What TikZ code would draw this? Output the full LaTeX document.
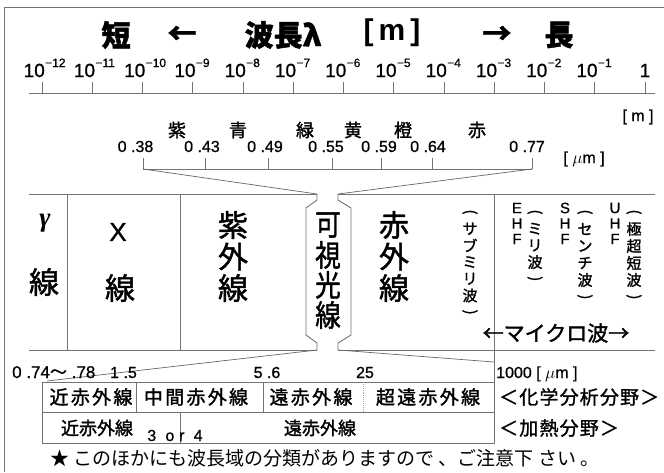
\documentclass[tikz,border=0pt]{standalone}
\usepackage{fontspec}
\setmainfont{Liberation Sans}[UprightFeatures={FakeBold=0.8}]
\newfontfamily\cjk{Noto Sans CJK JP}[UprightFeatures={FakeBold=1.5},BoldFeatures={FakeBold=1.5}]
\newfontfamily\cjkplain{Noto Sans CJK JP}
\newfontfamily\cjkrow{Noto Sans CJK JP}[FakeBold=1.5,LetterSpace=12]
\newfontfamily\cjkside{Noto Sans CJK JP}[FakeBold=1.2,LetterSpace=6]
\newfontfamily\grk{Liberation Serif}
\newfontfamily\spc{Liberation Sans}[LetterSpace=30,FakeBold=0.8]
\newcommand\vop{\rotatebox{-90}{(}}
\newcommand\vcl{\rotatebox{-90}{)}}
\newcommand\vstack[6]{% name, x, y0, dy, style, list
  \foreach \ch [count=\k from 0] in {#6} {\node[#5] (#1\k) at (#2,#3+#4*\k) {\ch};}}
\begin{document}
\begin{tikzpicture}[x=1pt,y=-1pt,
  ln/.style={draw=black!55, line width=0.9pt},
  fan/.style={draw=black!60, line width=0.7pt},
  title/.style={font=\cjk\bfseries\fontsize{29}{30}\selectfont, inner sep=0pt},
  tenlbl/.style={font=\fontsize{19}{19}\selectfont, inner sep=0pt, anchor=base east},
  explbl/.style={font=\fontsize{12}{12}\selectfont, inner sep=0pt, anchor=base west},
  cname/.style={font=\cjk\fontsize{18}{18}\selectfont, inner sep=0pt},
  num/.style={font=\fontsize{16}{16}\selectfont, inner sep=0pt, anchor=base},
  bigv/.style={font=\cjk\fontsize{30}{30}\selectfont, inner sep=0pt},
  smallv/.style={font=\cjk\fontsize{15}{15}\selectfont, inner sep=0pt},
  letv/.style={font=\fontsize{15}{15}\selectfont, inner sep=0pt},
  tbl/.style={font=\cjkrow\fontsize{19}{19}\selectfont, inner sep=0pt},
  tbltwo/.style={font=\cjk\fontsize{18}{18}\selectfont, inner sep=0pt},
  side/.style={font=\cjkside\fontsize{19}{19}\selectfont, inner sep=0pt, anchor=west}]
\useasboundingbox (0,0) rectangle (664,472);
\fill[white] (0,0) rectangle (664,472);
% outer frame
\coordinate (fbl) at (4,472);
\coordinate (ftl) at (4,7);
\coordinate (ftr) at (664,7);
\draw[ln] (fbl) -- (ftl) -- (ftr);

% title
\node[title] (short) at (116,35) {短};
\node[title] (larr) at (182,35) {←};
\node[title] (hacho) at (283,35) {波長λ};
\node[title, font=\bfseries\fontsize{30}{30}\selectfont] (munit) at (392,33) {[\hspace{5pt}m\hspace{5pt}]};
\node[title] (rarr) at (497,35) {→};
\node[title] (long) at (559,35) {長};

% logarithmic scale
\coordinate (axl) at (29,93);
\coordinate (axr) at (655,93);
\draw[ln] (axl) -- (axr);
\foreach \i in {0,...,11} {
  \pgfmathsetmacro\tx{42+50.25*\i}
  \pgfmathtruncatemacro\ab{12-\i}
  \node[tenlbl] (ten\i) at (\tx+3,77) {10};
  \node[explbl] (exp\i) at (\tx+3,67) {−\ab};
  \draw[ln] (\tx,93) -- (\tx,82);
}
\node[num, font=\fontsize{19}{19}\selectfont] (one) at (645,77) {1};
\draw[ln] (645,93) -- (645,82);
\node[font=\fontsize{16}{16}\selectfont, inner sep=0pt] (mright) at (638,117) {[ m ]};

% colour names
\node[cname] (murasaki) at (177,130) {紫};
\node[cname] (ao) at (238,130) {青};
\node[cname] (midori) at (305,130) {緑};
\node[cname] (ki) at (353,130) {黄};
\node[cname] (daidai) at (403,130) {橙};
\node[cname] (aka) at (477,130) {赤};

% visible scale
\node[num] (n38) at (135.5,152) {0 .38};
\node[num] (n43) at (202,152) {0 .43};
\node[num] (n49) at (265,152) {0 .49};
\node[num] (n55) at (326,152) {0 .55};
\node[num] (n59) at (379,152) {0 .59};
\node[num] (n64) at (428,152) {0 .64};
\node[num] (n77) at (527,152) {0 .77};
\node[font=\fontsize{16}{16}\selectfont, inner sep=0pt] (um1) at (584,159) {[ $\mu$m ]};
\coordinate (vsl) at (143,169);
\coordinate (vsr) at (532,169);
\draw[ln] (vsl) -- (vsr);
\foreach \t in {143,205,268,332,381,432,532} \draw[ln] (\t,169) -- (\t,158);

% band and visible box
\coordinate (vtl) at (317,194);
\coordinate (vtr) at (338,194);
\coordinate (vbl) at (317,350);
\coordinate (vbr) at (338,350);
\coordinate (btl) at (29,194);
\coordinate (btr) at (655,194);
\coordinate (bbl) at (29,350);
\coordinate (bbr) at (655,350);
\draw[ln] (btl) -- (vtl);
\draw[ln] (vtr) -- (btr);
\draw[ln] (bbl) -- (vbl);
\draw[ln] (vbr) -- (bbr);
\draw[ln] (vtl) -- (317,200) -- (306,208) -- (306,335) -- (317,343) -- (vbl);
\draw[ln] (vtr) -- (338,200) -- (351,208) -- (351,335) -- (338,343) -- (vbr);
\draw[ln] (67,194) -- (67,350);
\draw[ln] (180,194) -- (180,350);
\draw[ln] (494,194) -- (494,443);
% fans
\draw[fan] (vsl) -- (vtl);
\draw[fan] (vsr) -- (vtr);
\coordinate (fl) at (47,381);
\coordinate (fr) at (494,362);
\draw[fan] (vbl) -- (fl);
\draw[fan] (vbr) -- (fr);

% band texts
\node[font=\grk\bfseries\itshape\fontsize{27}{27}\selectfont, inner sep=0pt] (gam) at (45,223) {γ};
\node[bigv] (gsen) at (44,282) {線};
\node[font=\fontsize{26}{26}\selectfont, inner sep=0pt] (xx) at (118,232) {X};
\node[bigv] (xsen) at (120,288) {線};
\vstack{uv}{233}{225}{31.5}{bigv}{紫,外,線}
\vstack{vis}{328}{225}{30}{bigv}{\scalebox{0.85}[1]{可},\scalebox{0.85}[1]{視},\scalebox{0.85}[1]{光},\scalebox{0.85}[1]{線}}
\vstack{ir}{394}{225}{31.5}{bigv}{赤,外,線}
\vstack{submm}{470}{212}{16.7}{smallv}{\vop,サ,ブ,ミ,リ,波,\vcl}
\vstack{ehf}{517}{208}{15.5}{letv}{E,H,F}
\vstack{mm}{535}{212}{16.7}{smallv}{\vop,ミ,リ,波,\vcl}
\vstack{shf}{565}{208}{15.5}{letv}{S,H,F}
\vstack{cm}{585}{212}{17}{smallv}{\vop,セ,ン,チ,波,\vcl}
\vstack{uhf}{615}{208}{15.5}{letv}{U,H,F}
\vstack{ultra}{634}{212}{17}{smallv}{\vop,極,超,短,波,\vcl}
\node[font=\cjk\fontsize{21}{21}\selectfont, inner sep=0pt] (micro) at (556,333) {←マイクロ波→};

% lower scale labels
\node[num, anchor=base west, font=\fontsize{17}{17}\selectfont] (n074) at (12,378) {0 .74{\cjk 〜} .78};
\node[num, anchor=base west] (n15) at (110,378) {1 .5};
\node[num] (n56) at (267,378) {5 .6};
\node[num] (n25) at (365,378) {25};
\node[num, anchor=base west] (n1000) at (496,378) {1000 [ $\mu$m ]};

% lower table
\coordinate (ttl) at (42,382);
\coordinate (tbr) at (494,443);
\draw[ln] (ttl) rectangle (tbr);
\draw[ln] (42,412) -- (494,412);
\draw[ln] (136,382) -- (136,412);
\draw[ln] (263,382) -- (263,412);
\draw[ln, densely dotted, draw=black!35] (363,382) -- (363,412);
\draw[ln] (180,412) -- (180,443);
\node[tbl] (r1a) at (91,397) {近赤外線};
\node[tbl] (r1b) at (196,397) {中間赤外線};
\node[tbl] (r1c) at (311,397) {遠赤外線};
\node[tbl] (r1d) at (428,397) {超遠赤外線};
\node[tbltwo] (r2a) at (97,428) {近赤外線};
\node[tbltwo] (r2b) at (320,428) {遠赤外線};
\node[font=\spc\fontsize{16}{16}\selectfont, inner sep=0pt, anchor=base] (r2n) at (175,441) {3 or 4};
\node[side] (chem) at (499,397) {＜化学分析分野＞};
\node[side] (heat) at (499,428) {＜加熱分野＞};

% note
\node[font=\cjkplain\fontsize{19}{19}\selectfont, inner sep=0pt] (note) at (325,458) {★ このほかにも波長域の分類がありますので 、ご注意下 さい 。};
\end{tikzpicture}
\end{document}
